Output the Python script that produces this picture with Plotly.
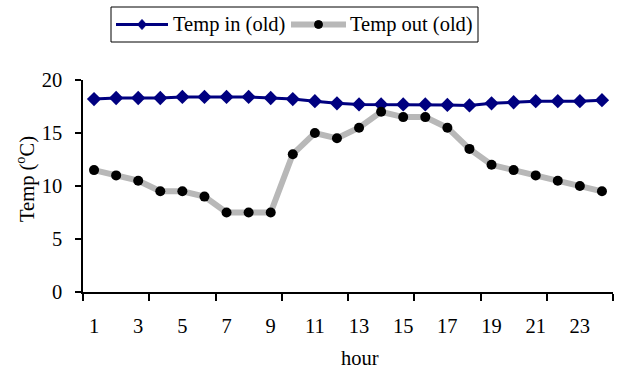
import plotly.graph_objects as go

hours = list(range(1, 25))
temp_in = [18.2, 18.3, 18.3, 18.3, 18.4, 18.4, 18.4, 18.4, 18.3, 18.2, 18.0, 17.8,
           17.7, 17.7, 17.7, 17.7, 17.65, 17.6, 17.8, 17.9, 18.0, 18.0, 18.0, 18.1]
temp_out = [11.5, 11.0, 10.5, 9.5, 9.5, 9.0, 7.5, 7.5, 7.5, 13.0, 15.0, 14.5,
            15.5, 17.0, 16.5, 16.5, 15.5, 13.5, 12.0, 11.5, 11.0, 10.5, 10.0, 9.5]
label_hours = list(range(1, 24, 2))
y_ticks = [0, 5, 10, 15, 20]
series_names = ["Temp in (old)", "Temp out (old)"]

FONT = "Liberation Serif, Times New Roman, serif"
NAVY = "#000080"
GREY = "#b8b8b8"
FS = 20.5

# plot-area geometry in pixels (used to place the legend box in paper units)
W, H = 618, 375
ML, MR, MT, MB = 83, 5, 80, 83
PW, PH = W - ML - MR, H - MT - MB


def px(x):
    return (x - ML) / PW


def py(y):
    return (H - MB - y) / PH


fig = go.Figure()
fig.add_trace(go.Scatter(
    x=hours, y=temp_in, name=series_names[0], mode="lines+markers",
    line=dict(color=NAVY, width=3),
    marker=dict(symbol="diamond", size=11, color=NAVY),
))
fig.add_trace(go.Scatter(
    x=hours, y=temp_out, name=series_names[1], mode="lines+markers",
    line=dict(color=GREY, width=6),
    marker=dict(symbol="circle", size=10, color="#000000"),
))

# boxed legend drawn with shapes
ly = 24.5
shapes = [
    dict(type="rect", xref="paper", yref="paper", x0=px(111), x1=px(478), y0=py(42), y1=py(7),
         line=dict(color="black", width=1), fillcolor="white", layer="above"),
    dict(type="line", xref="paper", yref="paper", x0=px(116), x1=px(168), y0=py(ly), y1=py(ly),
         line=dict(color=NAVY, width=3)),
    dict(type="path", xref="paper", yref="paper",
         path=(f"M {px(142)},{py(ly - 5)} L {px(146.5)},{py(ly)} "
               f"L {px(142)},{py(ly + 5)} L {px(137.5)},{py(ly)} Z"),
         line=dict(color=NAVY, width=1), fillcolor=NAVY),
    dict(type="line", xref="paper", yref="paper", x0=px(291), x1=px(346), y0=py(ly), y1=py(ly),
         line=dict(color=GREY, width=6)),
    dict(type="circle", xref="paper", yref="paper", x0=px(314.5), x1=px(322.5),
         y0=py(ly + 4), y1=py(ly - 4), line=dict(color="black", width=1), fillcolor="black"),
]

annotations = [
    dict(text=series_names[0], xref="paper", yref="paper", x=px(171), y=py(ly),
         showarrow=False, xanchor="left", yanchor="middle", font=dict(size=FS)),
    dict(text=series_names[1], xref="paper", yref="paper", x=px(348), y=py(ly),
         showarrow=False, xanchor="left", yanchor="middle", font=dict(size=FS)),
    dict(text="hour", xref="paper", yref="paper", x=px(360), y=py(358),
         showarrow=False, xanchor="center", yanchor="middle", font=dict(size=FS)),
    dict(text="Temp (<sup>o</sup>C)", xref="paper", yref="paper",
         x=px(25), y=py(224), textangle=-90,
         showarrow=False, xanchor="center", yanchor="bottom", font=dict(size=FS)),
]

fig.update_layout(
    width=W, height=H,
    margin=dict(l=ML, r=MR, t=MT, b=MB),
    plot_bgcolor="white", paper_bgcolor="white",
    font=dict(family=FONT, size=FS, color="black"),
    showlegend=False,
    xaxis=dict(
        range=[0.5, 24.5], tickmode="array", tickvals=label_hours,
        ticktext=[str(h) for h in label_hours], ticks="",
        showline=True, linecolor="black", linewidth=1.5,
        showgrid=False, zeroline=False, ticklabelstandoff=15,
        minor=dict(tickmode="array", tickvals=[0.5 + 3 * i for i in range(9)],
                   ticks="outside", ticklen=7, tickwidth=1.5, tickcolor="black",
                   showgrid=False),
    ),
    yaxis=dict(
        range=[0, 20], tickmode="array", tickvals=y_ticks,
        ticks="outside", ticklen=6, tickwidth=1.5, tickcolor="black",
        showline=True, linecolor="black", linewidth=1.5,
        showgrid=False, zeroline=False, ticklabelstandoff=9,
    ),
    shapes=shapes,
    annotations=annotations,
)

fig.write_html("out.html")
